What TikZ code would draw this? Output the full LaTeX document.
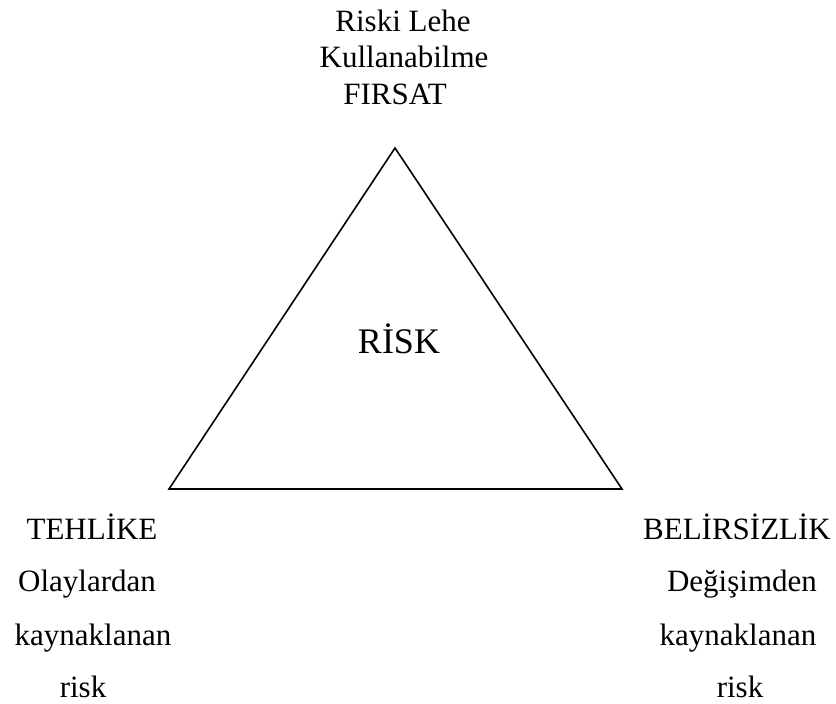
\documentclass[tikz,border=0pt]{standalone}
\usepackage{fontspec}
\setmainfont{Liberation Serif}
\usetikzlibrary{positioning}

\begin{document}
\begin{tikzpicture}[
  x=1pt, y=1pt,
  lbl/.style={
    inner sep=0pt, anchor=base,
    font=\fontsize{31}{36}\selectfont},
  big/.style={
    inner sep=0pt, anchor=base,
    font=\fontsize{36}{42}\selectfont},
  edge/.style={line width=1.6pt, line join=miter},
]
  \useasboundingbox (0,0) rectangle (836,704);

  % ── Triangle ────────────────────────────────────────────────────────────
  \coordinate (top)   at (395,556);
  \coordinate (left)  at (169,215);
  \coordinate (right) at (622,215);
  \draw[edge] (top) -- (right) -- (left) -- cycle;

  \node[big] (risk) at (399,350) {RİSK};

  % ── Top corner ──────────────────────────────────────────────────────────
  \node[lbl] (opp1) at (403,672) {Riski Lehe};
  \node[lbl] (opp2) at (404,636) {Kullanabilme};
  \node[lbl] (opp3) at (395,599) {FIRSAT};

  % ── Bottom left corner ──────────────────────────────────────────────────
  \node[lbl] (haz1) at (92,164) {TEHLİKE};
  \node[lbl] (haz2) at (87,112) {Olaylardan};
  \node[lbl] (haz3) at (93,58)  {kaynaklanan};
  \node[lbl] (haz4) at (83,6)   {risk};

  % ── Bottom right corner ─────────────────────────────────────────────────
  \node[lbl] (unc1) at (737,164) {BELİRSİZLİK};
  \node[lbl] (unc2) at (742,112) {Değişimden};
  \node[lbl] (unc3) at (738,58)  {kaynaklanan};
  \node[lbl] (unc4) at (740,6)   {risk};

\end{tikzpicture}
\end{document}
